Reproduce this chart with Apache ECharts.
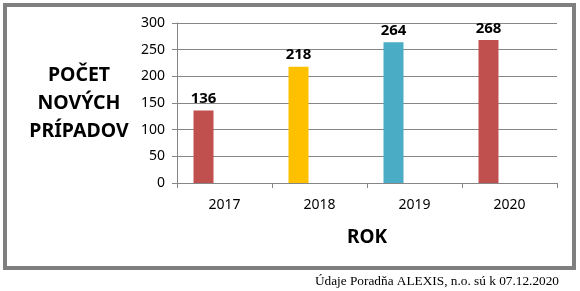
<!DOCTYPE html>
<html>
<head>
<meta charset="utf-8">
<script src="https://cdn.jsdelivr.net/npm/echarts@6/dist/echarts.min.js"></script>
<style>
  html, body { margin: 0; padding: 0; background: #fff; }
  #main { width: 580px; height: 291px; }
</style>
</head>
<body>
<div id="main"></div>
<script>
var years = ['2017', '2018', '2019', '2020'];
var cases = [136, 218, 264, 268];
var barColors = ['#C0504D', '#FFC000', '#4BACC6', '#C0504D'];
var yTicks = { min: 0, max: 300, interval: 50 };

var font = 'Noto Sans';

var option = {
    animation: false,
    textStyle: { fontFamily: font },
    grid: { left: 177, right: 23, top: 23, bottom: 108 },
    xAxis: {
        type: 'category',
        data: years,
        name: 'ROK',
        nameLocation: 'middle',
        nameGap: 45,
        nameTextStyle: { fontSize: 19, fontWeight: 'bold', color: '#000' },
        axisLine: { show: true, lineStyle: { color: '#868686' } },
        axisTick: { show: true, length: 5, lineStyle: { color: '#868686' } },
        axisLabel: { margin: 15, fontSize: 14, color: '#000' }
    },
    yAxis: {
        type: 'value',
        min: yTicks.min,
        max: yTicks.max,
        interval: yTicks.interval,
        axisLine: { show: true, lineStyle: { color: '#868686' } },
        axisTick: { show: true, length: 5, lineStyle: { color: '#868686' } },
        splitLine: { lineStyle: { color: '#868686' } },
        axisLabel: { margin: 12, fontSize: 14, color: '#000' }
    },
    graphic: [{
        type: 'rect',
        shape: { x: 5, y: 5, width: 569, height: 263 },
        style: { fill: 'none', stroke: '#7f7f7f', lineWidth: 4 },
        z: -1
    }, {
        type: 'text',
        x: 79,
        y: 61,
        style: {
            text: 'POČET\nNOVÝCH\nPRÍPADOV',
            fontFamily: font,
            fontSize: 19.5,
            fontWeight: 'bold',
            lineHeight: 28,
            fill: '#000',
            align: 'center',
            verticalAlign: 'top'
        }
    }, {
        type: 'text',
        right: 21,
        top: 275,
        style: {
            text: 'Údaje Poradňa ALEXIS, n.o. sú k 07.12.2020',
            fontFamily: 'Liberation Serif',
            fontSize: 13.3,
            fill: '#000'
        }
    }],
    series: [{
        type: 'bar',
        barWidth: 20,
        barGap: '110%',
        data: cases.map(function (v, i) {
            return { value: v, itemStyle: { color: barColors[i] } };
        }),
        label: {
            show: true,
            position: 'top',
            distance: 4,
            fontSize: 15,
            fontWeight: 'bold',
            color: '#000'
        }
    }, {
        type: 'bar',
        barWidth: 20,
        data: years.map(function () { return null; })
    }]
};

var myChart = echarts.init(document.getElementById('main'));
myChart.setOption(option);
</script>
</body>
</html>
